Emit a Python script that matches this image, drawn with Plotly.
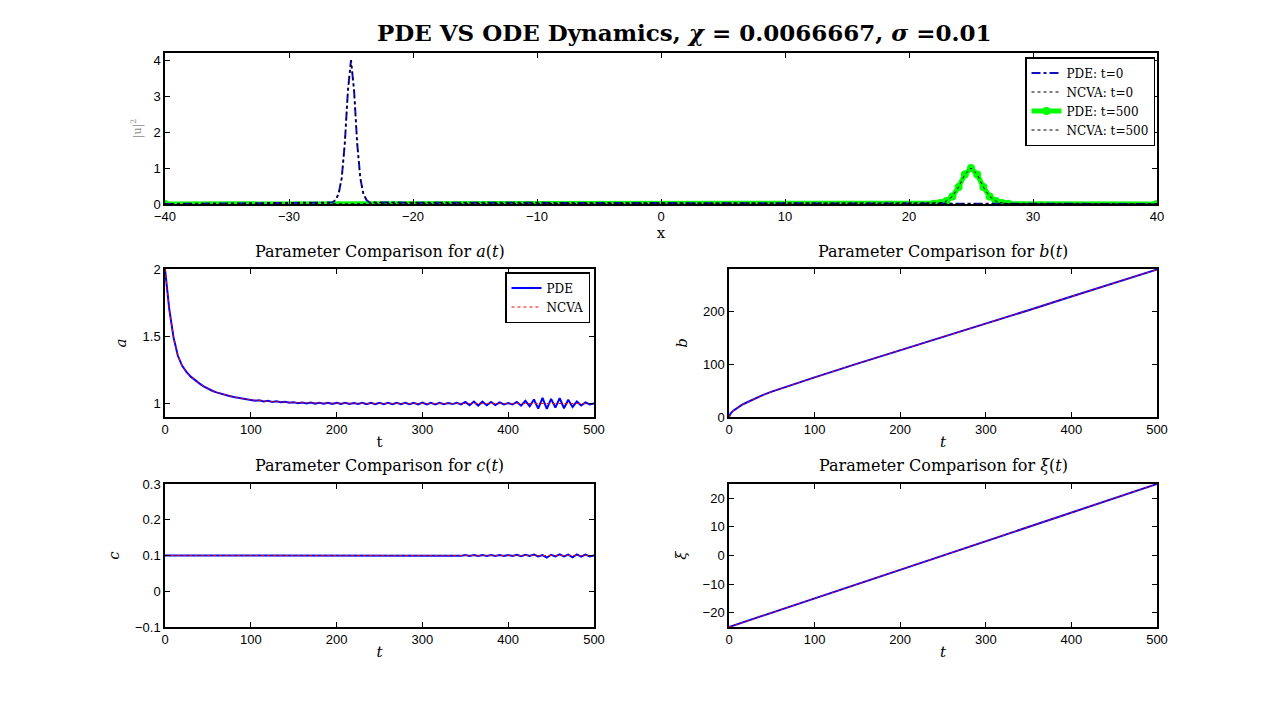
import plotly.graph_objects as go

# ---- top panel: |u|^2 profiles ----
pde0_x = [-40, -26.5, -26.25, -26, -25.75, -25.5, -25.25, -25, -24.75, -24.5, -24.25, -24, -23.75, -23.5, 40]
pde0_y = [0, 0.04, 0.11, 0.28, 0.72, 1.68, 3.15, 4.0, 3.15, 1.68, 0.72, 0.28, 0.11, 0.04, 0]
ncva0_x = [-40, -26.5, -26.25, -26, -25.75, -25.5, -25.25, -25, -24.75, -24.5, -24.25, -24, -23.75, -23.5, 40]
ncva0_y = [0, 0.04, 0.11, 0.28, 0.72, 1.68, 3.15, 4.0, 3.15, 1.68, 0.72, 0.28, 0.11, 0.04, 0]
pde500_x = [-40, 22, 22.5, 23, 23.5, 24, 24.5, 25, 25.5, 26, 26.5, 27, 27.5, 28, 40]
pde500_y = [0, 0.01, 0.03, 0.08, 0.21, 0.47, 0.82, 1.0, 0.82, 0.47, 0.21, 0.08, 0.03, 0.01, 0]
ncva500_x = [-40, 22, 22.5, 23, 23.5, 24, 24.5, 25, 25.5, 26, 26.5, 27, 27.5, 28, 40]
ncva500_y = [0, 0.01, 0.03, 0.08, 0.21, 0.47, 0.82, 1.0, 0.82, 0.47, 0.21, 0.08, 0.03, 0.01, 0]

# ---- parameter time series (PDE sampled every 5 time units) ----
t_pde = list(range(0, 505, 5))
a_pde = [2.000, 1.700, 1.490, 1.355, 1.280, 1.235, 1.200, 1.172, 1.150, 1.128,
         1.110, 1.095, 1.083, 1.073, 1.064, 1.056, 1.049, 1.043, 1.037, 1.032,
         1.028, 1.020, 1.024, 1.015, 1.020, 1.012, 1.017, 1.009, 1.014, 1.006,
         1.010, 1.003, 1.008, 1.000, 1.007, 0.999, 1.006, 0.998, 1.005, 0.997,
         1.005, 0.996, 1.005, 0.996, 1.004, 0.996, 1.005, 0.995, 1.005, 0.995,
         1.005, 0.995, 1.005, 0.995, 1.006, 0.995, 1.005, 0.995, 1.006, 0.994,
         1.007, 0.993, 1.006, 0.994, 1.005, 0.995, 1.004, 0.996, 1.006, 0.994,
         1.012, 0.988, 1.015, 0.985, 1.014, 0.987, 1.012, 0.988, 1.008, 0.993,
         1.004, 0.993, 1.012, 0.985, 1.020, 0.980, 1.030, 0.962, 1.042, 0.960,
         1.035, 0.970, 1.040, 0.965, 1.028, 0.975, 1.015, 0.985, 1.008, 0.993,
         1.000]
t_a_ncva = [0, 5, 10, 15, 20, 25, 30, 35, 40, 45, 50, 55, 60, 70, 80, 90, 100, 120, 140, 160, 200, 250, 300, 400, 500]
a_ncva = [2.0, 1.70, 1.49, 1.355, 1.28, 1.235, 1.2, 1.172, 1.15, 1.128, 1.11, 1.095, 1.083, 1.064, 1.049,
          1.037, 1.028, 1.016, 1.01, 1.006, 1.002, 1.0, 1.0, 1.0, 1.0]

c_pde = [0.1, 0.1, 0.1, 0.1, 0.1, 0.1, 0.1, 0.1, 0.1, 0.1,
         0.1, 0.1, 0.1, 0.1, 0.1, 0.1, 0.1, 0.1, 0.1, 0.1,
         0.1, 0.1, 0.1008, 0.0992, 0.1008, 0.0992, 0.1008, 0.0992, 0.1008, 0.0992,
         0.1008, 0.0992, 0.1008, 0.0992, 0.1008, 0.0992, 0.1008, 0.0992, 0.1008, 0.0992,
         0.1008, 0.0992, 0.1008, 0.0992, 0.1008, 0.0992, 0.1008, 0.0992, 0.1008, 0.0992,
         0.1008, 0.0992, 0.1008, 0.0992, 0.1008, 0.0992, 0.1009, 0.0991, 0.1009, 0.0991,
         0.1010, 0.0990, 0.1010, 0.0990, 0.1010, 0.0990, 0.1010, 0.0990, 0.1010, 0.0990,
         0.1012, 0.0990, 0.1012, 0.0989, 0.1012, 0.0988, 0.1012, 0.0989, 0.1012, 0.0988,
         0.1015, 0.0985, 0.1020, 0.0982, 0.1018, 0.0985, 0.1025, 0.0975, 0.1010, 0.0940,
         0.1020, 0.0975, 0.1030, 0.0972, 0.1025, 0.0950, 0.1030, 0.0970, 0.1025, 0.0975,
         0.1000]
t_c_ncva = [0, 500]
c_ncva = [0.1, 0.1]

t_b = [0, 2, 5, 10, 15, 20, 30, 40, 50, 75, 100, 150, 200, 250, 300, 350, 400, 450, 500]
b_pde = [0, 7, 12, 18, 23, 27, 35, 42, 48, 62, 75, 101, 126, 151, 177, 202, 228, 253, 279]
b_ncva = [0, 7, 12, 18, 23, 27, 35, 42, 48, 62, 75, 101, 126, 151, 177, 202, 228, 253, 279]

t_xi = [0, 100, 200, 300, 400, 500]
xi_pde = [-25, -15, -5, 5, 15, 25]
xi_ncva = [-25, -15, -5, 5, 15, 25]

BLUE = "#0000ff"
RED = "#ff0000"
GREEN = "#00ff00"
SERIF = "DejaVu Serif"
SANS = "Liberation Sans"

fig = go.Figure()

# top panel
fig.add_trace(go.Scatter(x=pde500_x, y=pde500_y, mode="lines+markers", name="PDE: t=500",
                         line=dict(color=GREEN, width=5),
                         marker=dict(symbol="circle-open", size=6, color=GREEN, line=dict(width=2)),
                         xaxis="x", yaxis="y", legend="legend", legendrank=3))
fig.add_trace(go.Scatter(x=pde0_x, y=pde0_y, mode="lines", name="PDE: t=0",
                         line=dict(color="#1010c0", width=2, dash="dashdot"),
                         xaxis="x", yaxis="y", legend="legend", legendrank=1))
fig.add_trace(go.Scatter(x=ncva0_x, y=ncva0_y, mode="lines", name="NCVA: t=0",
                         line=dict(color="black", width=1, dash="dot"),
                         xaxis="x", yaxis="y", legend="legend", legendrank=2))
fig.add_trace(go.Scatter(x=ncva500_x, y=ncva500_y, mode="lines", name="NCVA: t=500",
                         line=dict(color="black", width=1, dash="dot"),
                         xaxis="x", yaxis="y", legend="legend", legendrank=4))

# a(t)
fig.add_trace(go.Scatter(x=t_pde, y=a_pde, mode="lines", name="PDE", line=dict(color=BLUE, width=2),
                         xaxis="x2", yaxis="y2", legend="legend2"))
fig.add_trace(go.Scatter(x=t_a_ncva, y=a_ncva, mode="lines", name="NCVA", line=dict(color=RED, width=1, dash="dot"),
                         xaxis="x2", yaxis="y2", legend="legend2"))
# b(t)
fig.add_trace(go.Scatter(x=t_b, y=b_pde, mode="lines", line=dict(color=BLUE, width=2),
                         xaxis="x3", yaxis="y3", showlegend=False))
fig.add_trace(go.Scatter(x=t_b, y=b_ncva, mode="lines", line=dict(color=RED, width=1, dash="dot"),
                         xaxis="x3", yaxis="y3", showlegend=False))
# c(t)
fig.add_trace(go.Scatter(x=t_pde, y=c_pde, mode="lines", line=dict(color=BLUE, width=2),
                         xaxis="x4", yaxis="y4", showlegend=False))
fig.add_trace(go.Scatter(x=t_c_ncva, y=c_ncva, mode="lines", line=dict(color=RED, width=1, dash="dot"),
                         xaxis="x4", yaxis="y4", showlegend=False))
# xi(t)
fig.add_trace(go.Scatter(x=t_xi, y=xi_pde, mode="lines", line=dict(color=BLUE, width=2),
                         xaxis="x5", yaxis="y5", showlegend=False))
fig.add_trace(go.Scatter(x=t_xi, y=xi_ncva, mode="lines", line=dict(color=RED, width=1, dash="dot"),
                         xaxis="x5", yaxis="y5", showlegend=False))

# the page puts the figure 8px in from the top-left corner
OFF = 8
W, H = 1278 - OFF, 706 - OFF


def px_x(p):
    return (p - OFF) / W


def px_y(p):
    return 1 - (p - OFF) / H


def ax(domain, anchor, rng, dtick, title=None, tick0=None):
    d = dict(domain=domain, anchor=anchor, range=rng, dtick=dtick, automargin=False,
             showline=True, linecolor="black", linewidth=1.5, mirror="allticks",
             ticks="inside", ticklen=5, tickwidth=1, tickcolor="black",
             showgrid=False, zeroline=False,
             tickfont=dict(family=SANS, size=13, color="black"))
    if tick0 is not None:
        d["tick0"] = tick0
    if title is not None:
        d["title"] = title
    return d


LX = [px_x(165), px_x(594)]
RX = [px_x(729), px_x(1157)]
TOPX = [px_x(165), px_x(1157)]
TOPY = [px_y(204), px_y(53)]
MIDY = [px_y(417), px_y(269)]
BOTY = [px_y(627), px_y(484)]

tfont = dict(family=SERIF, size=15, color="black")

fig.update_layout(
    width=W, height=H,
    margin=dict(l=0, r=0, t=0, b=0),
    paper_bgcolor="white", plot_bgcolor="white",
    xaxis=ax(TOPX, "y", [-40, 40], 10, dict(text="x", font=tfont, standoff=0)),
    yaxis=ax(TOPY, "x", [0, 4.2], 1, dict(text="|u|<sup>2</sup>", font=dict(family=SERIF, size=11, color="#888888"), standoff=10)),
    xaxis2=ax(LX, "y2", [0, 500], 100, dict(text="t", font=tfont, standoff=0)),
    yaxis2=ax(MIDY, "x2", [0.9, 2], 0.5, dict(text="<i>a</i>", font=tfont, standoff=12), tick0=1),
    xaxis3=ax(RX, "y3", [0, 500], 100, dict(text="<i>t</i>", font=tfont, standoff=0)),
    yaxis3=ax(MIDY, "x3", [0, 280], 100, dict(text="<i>b</i>", font=tfont, standoff=12)),
    xaxis4=ax(LX, "y4", [0, 500], 100, dict(text="<i>t</i>", font=tfont, standoff=0)),
    yaxis4=ax(BOTY, "x4", [-0.1, 0.3], 0.1, dict(text="<i>c</i>", font=tfont, standoff=12)),
    xaxis5=ax(RX, "y5", [0, 500], 100, dict(text="<i>t</i>", font=tfont, standoff=0)),
    yaxis5=ax(BOTY, "x5", [-25, 25], 10, dict(text="<i>ξ</i>", font=tfont, standoff=12), tick0=0),
    legend=dict(x=px_x(1155), xanchor="right", y=px_y(57), yanchor="top",
                bgcolor="white", bordercolor="black", borderwidth=1.5,
                font=dict(family=SERIF, size=12, color="black"),
                tracegroupgap=0, itemwidth=30),
    legend2=dict(x=px_x(590), xanchor="right", y=px_y(272), yanchor="top",
                 bgcolor="white", bordercolor="black", borderwidth=1.5,
                 font=dict(family=SERIF, size=12, color="black"),
                 tracegroupgap=0, itemwidth=30),
    showlegend=True,
)

fig.add_annotation(text="<b>PDE VS ODE Dynamics, <i>χ</i> = 0.0066667, <i>σ</i> =0.01</b>",
                   x=px_x(684), y=px_y(32), xref="paper", yref="paper", showarrow=False,
                   xanchor="center", yanchor="middle",
                   font=dict(family=SERIF, size=23, color="black"))
for txt, cx, cy in [("Parameter Comparison for <i>a</i>(<i>t</i>)", (165 + 594) / 2, 252),
                    ("Parameter Comparison for <i>b</i>(<i>t</i>)", (729 + 1157) / 2, 252),
                    ("Parameter Comparison for <i>c</i>(<i>t</i>)", (165 + 594) / 2, 465),
                    ("Parameter Comparison for <i>ξ</i>(<i>t</i>)", (729 + 1157) / 2, 465)]:
    fig.add_annotation(text=txt, x=px_x(cx), y=px_y(cy), xref="paper", yref="paper",
                       showarrow=False, xanchor="center", yanchor="middle",
                       font=dict(family=SERIF, size=16, color="black"))

fig.write_html("out.html")
